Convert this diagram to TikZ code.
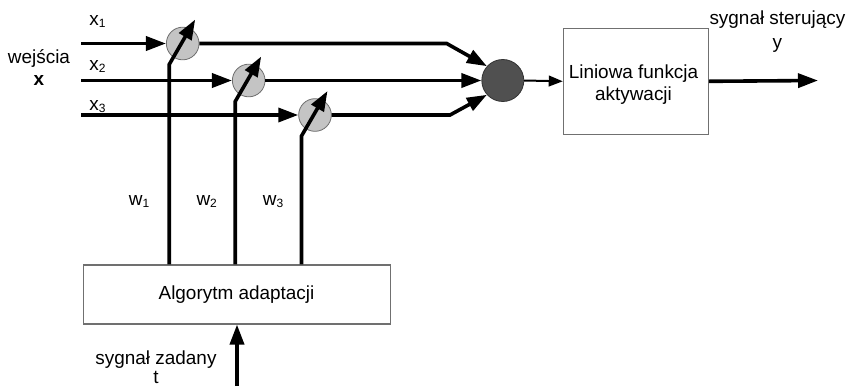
\documentclass[tikz,border=0pt]{standalone}
\usepackage{fontspec}
\setmainfont{Liberation Sans}
\usetikzlibrary{arrows.meta,calc}
\definecolor{wfill}{HTML}{C4C4C4}
\definecolor{wdraw}{HTML}{6E6E6E}
\definecolor{sfill}{HTML}{505050}
\definecolor{bdraw}{HTML}{707070}
\begin{document}
\begin{tikzpicture}[x=0.75pt,y=-0.75pt,
  every node/.style={font=\fontsize{14.2}{16.5}\selectfont},
  thickln/.style={line width=2.7pt},
  bigtip/.style={-{Triangle[length=15pt,width=10.5pt]}},
  smalltip/.style={-{Triangle[length=10.5pt,width=8pt]}},
  wcirc/.style={circle,draw=wdraw,fill=wfill,line width=0.6pt,minimum size=24.5pt,inner sep=0pt},
  scirc/.style={circle,draw=black!80,fill=sfill,line width=0.6pt,minimum size=31.5pt,inner sep=0pt},
  blockbox/.style={draw=bdraw,line width=0.8pt,inner sep=0pt,align=center},
  lbl/.style={anchor=base,inner sep=0pt}
]
\useasboundingbox (0,0) rectangle (850,386);
\newcommand{\sub}[1]{\raisebox{-1.6pt}{\fontsize{9}{9}\selectfont #1}}

% nodes
\node[wcirc] (c1) at (182.7,43.5) {};
\node[wcirc] (c2) at (248.7,80.5) {};
\node[wcirc] (c3) at (315,115) {};
\node[scirc] (sum) at (502.8,80.5) {};
\node[blockbox,minimum width=108.75pt,minimum height=79.5pt] (act) at (635.8,81.3) {};
\node[blockbox,minimum width=230.5pt,minimum height=44.25pt] (alg) at (237,294.5) {};

% texts
\node[lbl] (t1) at (633.5,78.2) {Liniowa funkcja};
\node[lbl] (t2) at (633.5,100) {aktywacji};
\node[lbl] (t3) at (236.5,299.9) {Algorytm adaptacji};
\node[lbl] (t4) at (777.4,24) {sygnał sterujący};
\node[lbl] (t5) at (777.4,48) {y};
\node[lbl] (t6) at (156,364) {sygnał zadany};
\node[lbl] (t7) at (156,383) {t};
\node[lbl] (t8) at (39,63) {wejścia};
\node[lbl] (t9) at (39,85.7) {\bfseries x};
\node[lbl] (lx1) at (97.5,25) {x\sub{1}};
\node[lbl] (lx2) at (97.5,70) {x\sub{2}};
\node[lbl] (lx3) at (97.5,110) {x\sub{3}};
\node[lbl] (lw1) at (139,205) {w\sub{1}};
\node[lbl] (lw2) at (206.7,205) {w\sub{2}};
\node[lbl] (lw3) at (273,205) {w\sub{3}};

% coordinates
\coordinate (i1) at (81,43.5);
\coordinate (i2) at (81,80.5);
\coordinate (i3) at (81,115);
\coordinate (b1) at (446.7,43.5);
\coordinate (b3) at (450,115);
\coordinate (out) at (818,80.5);
\coordinate (tin) at (237,386);
\foreach \i in {1,2,3}{
  \coordinate (k\i) at ($(c\i)+(-13.5,21)$);
  \coordinate (a\i) at ($(c\i)+(12.5,-24)$);
}

% inputs
\draw[thickln,bigtip] (i1) -- (c1.west);
\draw[thickln,bigtip] (i2) -- (c2.west);
\draw[thickln,bigtip] (i3) -- (c3.west);

% to sum
\draw[thickln,bigtip] (c1.east) -- (b1) -- (sum.138);
\draw[thickln,bigtip] (c2.east) -- (sum.west);
\draw[thickln,bigtip] (c3.east) -- (b3) -- (sum.222);

% weights
\foreach \i in {1,2,3}{
  \draw[thickln,bigtip] (alg.north -| k\i) -- (k\i) -- (a\i);
}

% sum to activation
\draw[line width=1.5pt,smalltip] (sum.east) -- (act.west);
\draw[thickln,bigtip] (act.east) -- (out);

% target signal
\draw[thickln,bigtip] (tin) -- (alg.south);
\end{tikzpicture}
\end{document}
